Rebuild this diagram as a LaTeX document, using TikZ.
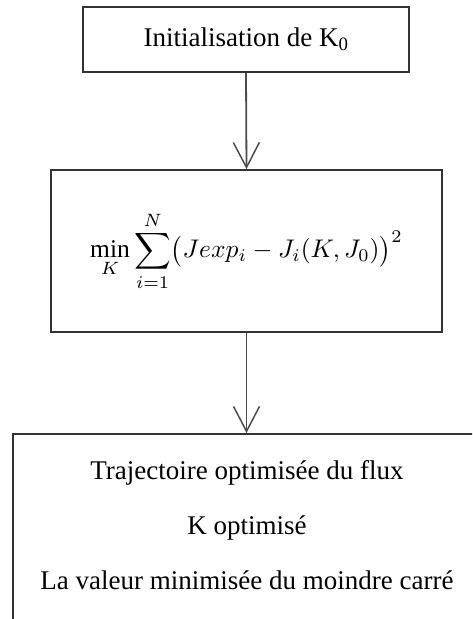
\documentclass[tikz,border=0pt]{standalone}
\usepackage{graphicx}
\usepackage{fontspec}
\setmainfont{Liberation Serif}
\usetikzlibrary{arrows.meta}
\tikzset{
  boite/.style={draw=black!80, line width=1.8pt, rectangle, inner sep=0pt},
  fleche/.style={draw=black!70, line width=1.8pt,
    -{Straight Barb[length=25pt,width=26pt,line width=1.5pt]}}
}
\begin{document}
\begin{tikzpicture}[x=1pt,y=-1pt,font=\fontsize{27}{33}\selectfont]
\useasboundingbox (0,0) rectangle (472,619);
\clip (0,0) rectangle (472,619);
% les trois etapes
\node[boite,minimum width=326pt,minimum height=65pt] (init) at (246,39.5) {Initialisation de K\textsubscript{0}};
\node[boite,minimum width=391pt,minimum height=162pt] (optim) at (246.5,251)
  {\scalebox{2.55}{\normalsize$\displaystyle \min_{K}\sum_{i=1}^{N}\bigl(Jexp_i-J_i(K,J_0)\bigr)^2$}};
\node[boite,minimum width=470pt,minimum height=230pt,anchor=north west] (result) at (12,433) {};
\node[align=center,font=\fontsize{27}{55}\selectfont] (texte) at (247,525)
  {Trajectoire optimisée du flux\\K optimisé\\La valeur minimisée du moindre carré};
% fleches
\draw[fleche] (init.south) -- (optim.north);
\draw[fleche] (optim.south) -- (optim.south |- result.north);
\end{tikzpicture}
\end{document}
